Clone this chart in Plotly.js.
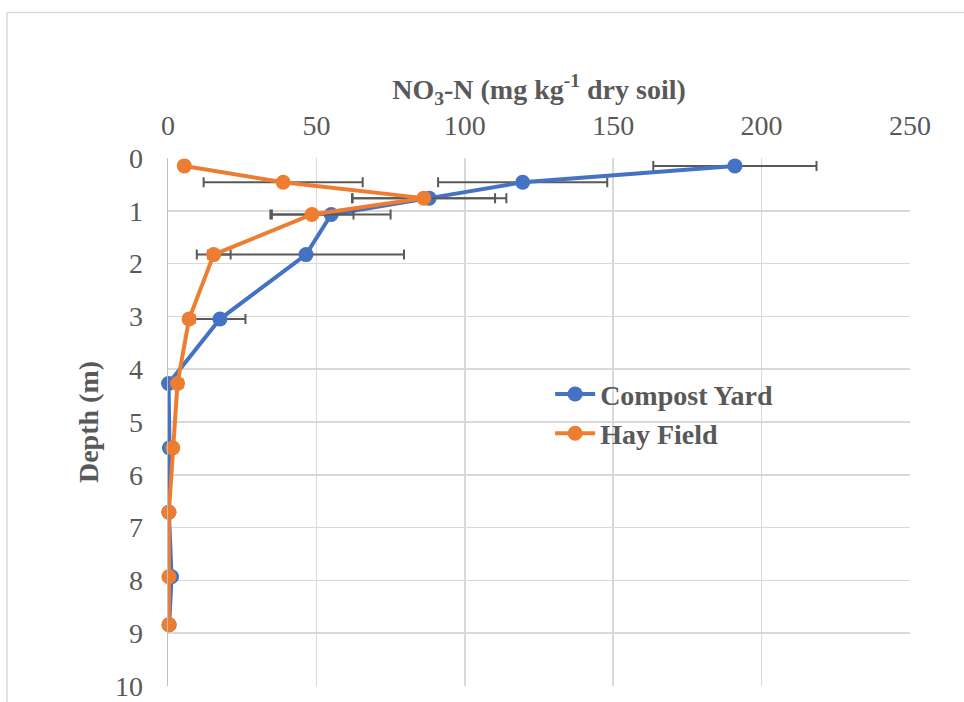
<!DOCTYPE html>
<html>
<head>
<meta charset="utf-8">
<script src="https://cdn.plot.ly/plotly-3.0.1.min.js"></script>
<style>
  html, body { margin: 0; padding: 0; background: #ffffff; }
  #chart { width: 964px; height: 702px; }
</style>
</head>
<body>
<div id="chart"></div>
<script>
// Depth of sampling (m)
const depth = [0.15, 0.46, 0.76, 1.07, 1.83, 3.05, 4.27, 5.49, 6.71, 7.93, 8.84];
// NO3-N (mg kg-1 dry soil)
const compostYard = [191, 119.5, 88, 55, 46.5, 17.5, 0.2, 0.5, 0.3, 1.2, 0.4];
const compostYardErr = [27.5, 28.5, 26, 20, 33, 8.6, 0.3, 0.2, 0.1, 0.3, 0.1];
const hayField = [5.5, 38.8, 86.2, 48.5, 15.4, 7.1, 3.2, 1.6, 0.3, 0.3, 0.3];
const hayFieldErr = [1.5, 26.8, 24, 14, 5.7, 1.5, 1.7, 0.3, 0.1, 0.1, 0.1];
const seriesNames = ["Compost Yard", "Hay Field"];
const xTicks = [0, 50, 100, 150, 200, 250];
const yTicks = [0, 1, 2, 3, 4, 5, 6, 7, 8, 9, 10];

const fontFam = "Liberation Serif, Times New Roman, serif";
const textCol = "#595959";
const fs = 28;

function series(name, x, err, color) {
  return {
    type: "scatter", mode: "lines+markers", name: name,
    x: x, y: depth, cliponaxis: false,
    line: { color: color, width: 4 },
    marker: { color: color, size: 15 },
    error_x: { type: "data", array: err, visible: true, color: "#595959", thickness: 2, width: 5 }
  };
}

const data = [
  series(seriesNames[0], compostYard, compostYardErr, "#4472C4"),
  series(seriesNames[1], hayField, hayFieldErr, "#ED7D31")
];

const layout = {
  width: 964, height: 702,
  margin: { l: 168, r: 54, t: 158, b: 16 },
  paper_bgcolor: "#ffffff", plot_bgcolor: "#ffffff",
  font: { family: fontFam, color: textCol, size: fs },
  showlegend: true,
  legend: {
    x: 0.515, y: 0.6, xanchor: "left", yanchor: "top",
    bgcolor: "rgba(0,0,0,0)",
    font: { family: fontFam, size: fs, color: textCol, weight: "bold" },
    itemwidth: 40, tracegroupgap: 0
  },
  xaxis: {
    side: "top", range: [0, 250], tickvals: xTicks, ticktext: xTicks.map(String),
    showgrid: true, gridcolor: "#d9d9d9", gridwidth: 1.5,
    zeroline: false, showline: false, ticks: "",
    ticklabelstandoff: 16,
    tickfont: { family: fontFam, size: fs, color: textCol },
    title: {
      text: "NO<sub>3</sub>-N (mg kg<sup>-1</sup> dry soil)",
      font: { family: fontFam, size: fs, color: textCol, weight: "bold" },
      standoff: 2
    }
  },
  yaxis: {
    range: [10, 0], tickvals: yTicks, ticktext: yTicks.map(String),
    showgrid: true, gridcolor: "#d9d9d9", gridwidth: 1.5,
    zeroline: false, showline: true, linecolor: "#bfbfbf", linewidth: 1.5, ticks: "",
    ticklabelstandoff: 18,
    tickfont: { family: fontFam, size: fs, color: textCol },
    title: {
      text: "Depth (m)",
      font: { family: fontFam, size: fs, color: textCol, weight: "bold" },
      standoff: 8
    }
  },
  shapes: [
    { type: "line", xref: "paper", yref: "paper", x0: -0.217, x1: 1.2, y0: 1.2758, y1: 1.2758,
      line: { color: "#d9d9d9", width: 1.5 } },
    { type: "line", xref: "paper", yref: "paper", x0: -0.217, x1: -0.217, y0: 1.2758, y1: -0.2,
      line: { color: "#d9d9d9", width: 1.5 } }
  ]
};

Plotly.newPlot("chart", data, layout, { displayModeBar: false, staticPlot: true });
</script>
</body>
</html>
